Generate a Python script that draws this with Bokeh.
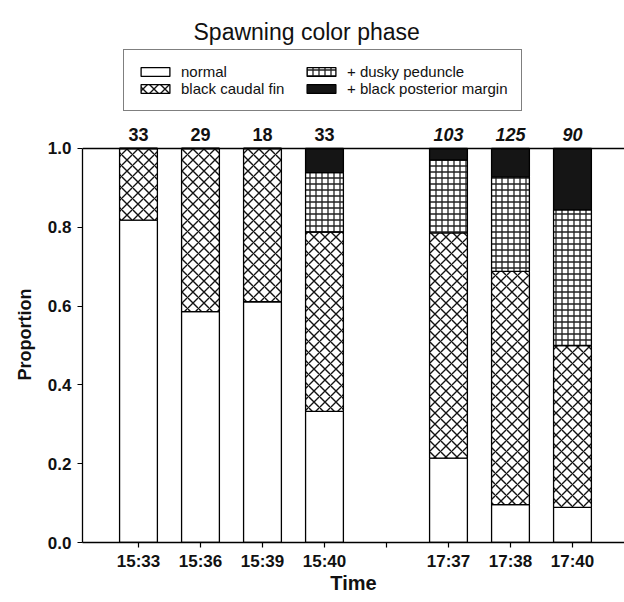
import numpy as np
from bokeh.plotting import figure
from bokeh.models import (ColumnDataSource, Range1d, FixedTicker, Span, Legend,
                          LegendItem, NumeralTickFormatter, Title)
from bokeh.core.properties import value
from bokeh.embed import file_html
from bokeh.resources import INLINE

# ---- data ----
session1_times = ["15:33", "15:36", "15:39", "15:40"]
session2_times = ["17:37", "17:38", "17:40"]
n_fish = [33, 29, 18, 33, 103, 125, 90]
normal = [0.818, 0.586, 0.611, 0.333, 0.214, 0.096, 0.089]
black_caudal = [0.182, 0.414, 0.389, 0.455, 0.572, 0.592, 0.411]
dusky = [0.0, 0.0, 0.0, 0.151, 0.185, 0.240, 0.344]
black_margin = [0.0, 0.0, 0.0, 0.061, 0.029, 0.072, 0.156]
categories = ["normal", "black caudal fin", "+ dusky peduncle", "+ black posterior margin"]
y_ticks = [0.0, 0.2, 0.4, 0.6, 0.8, 1.0]

FONT = "Liberation Sans"

tick_labels = session1_times + [""] + session2_times
slots = list(range(len(tick_labels)))
bar_x = [i for i, t in enumerate(tick_labels) if t]

layers = np.array([normal, black_caudal, dusky, black_margin])
tops = np.cumsum(layers, axis=0)
bottoms = tops - layers

data = dict(x=bar_x, total=list(tops[-1]), n=[str(v) for v in n_fish],
            style=["bold"] * len(session1_times) + ["bold italic"] * len(session2_times))
for k in range(len(categories)):
    data[f"b{k}"] = list(bottoms[k])
    data[f"t{k}"] = list(tops[k])
src = ColumnDataSource(data)

p = figure(width=624, height=602, output_backend="svg", toolbar_location=None,
           x_range=Range1d(-0.903, 7.839), y_range=Range1d(0, 1.2614),
           min_border_left=82, min_border_right=0, min_border_top=45, min_border_bottom=60,
           title="Spawning color phase")
p.outline_line_color = None
p.xgrid.visible = False
p.ygrid.visible = False
p.background_fill_color = "white"

p.title.text_font = FONT
p.title.text_font_style = "normal"
p.title.text_font_size = "23px"
p.title.align = "left"
p.title.offset = 111
p.title.standoff = 1
p.title.text_color = "#111111"

styles = [
    dict(fill_color="white"),
    dict(fill_color="white", hatch_pattern="diagonal_cross", hatch_scale=11,
         hatch_weight=1.4, hatch_color="#111111"),
    dict(fill_color="white", hatch_pattern="cross", hatch_scale=6,
         hatch_weight=1.3, hatch_color="#222222"),
    dict(fill_color="#151515"),
]
renderers = []
for k, st in enumerate(styles):
    r = p.vbar(x="x", bottom=f"b{k}", top=f"t{k}", width=0.61, source=src,
               line_color="black", line_width=1.3, **st)
    renderers.append(r)

p.add_layout(Span(location=1.0, dimension="width", line_color="black", line_width=1.3))

p.text(x="x", y="total", text="n", source=src, text_align="center", text_baseline="bottom",
       y_offset=-7, text_font=value(FONT), text_font_size="18px", text_font_style="style",
       text_color="#111111")

# axes
xa = p.xaxis[0]
xa.ticker = FixedTicker(ticks=slots)
xa.major_label_overrides = {i: t for i, t in enumerate(tick_labels)}
xa.minor_tick_line_color = None
xa.major_tick_in = 0
xa.major_tick_out = 5
xa.axis_line_width = 1.3
xa.major_tick_line_width = 1.2
xa.major_label_text_font = FONT
xa.major_label_text_font_style = "bold"
xa.major_label_text_font_size = "17px"
xa.major_label_standoff = 4
xa.axis_label = "Time"
xa.axis_label_text_font = FONT
xa.axis_label_text_font_style = "bold"
xa.axis_label_text_font_size = "20px"
xa.axis_label_standoff = -2
xa.major_label_text_color = "#111111"
xa.axis_label_text_color = "#111111"

ya = p.yaxis[0]
ya.bounds = (0, 1)
ya.ticker = FixedTicker(ticks=y_ticks)
ya.formatter = NumeralTickFormatter(format="0.0")
ya.minor_tick_line_color = None
ya.major_tick_in = 0
ya.major_tick_out = 5
ya.axis_line_width = 1.3
ya.major_tick_line_width = 1.2
ya.major_label_text_font = FONT
ya.major_label_text_font_style = "bold"
ya.major_label_text_font_size = "17px"
ya.major_label_standoff = 6
ya.major_label_text_color = "#111111"

p.add_layout(Title(text="Proportion", align="left", offset=162, standoff=20,
                   text_font=FONT, text_font_style="bold", text_font_size="18px",
                   text_color="#111111"), "left")

legend = Legend(items=[LegendItem(label=c, renderers=[r]) for c, r in zip(categories, renderers)],
                location=(41, 431), orientation="vertical", nrows=2,
                glyph_width=36, glyph_height=11, label_height=15, label_width=122,
                label_standoff=8, spacing=0, padding=13, margin=0,
                label_text_font=FONT, label_text_font_size="15px", label_text_color="#111111",
                border_line_color="black", border_line_width=1.2,
                background_fill_color="white", background_fill_alpha=1.0)
p.add_layout(legend)

open("out.html", "w").write(file_html(p, INLINE))
